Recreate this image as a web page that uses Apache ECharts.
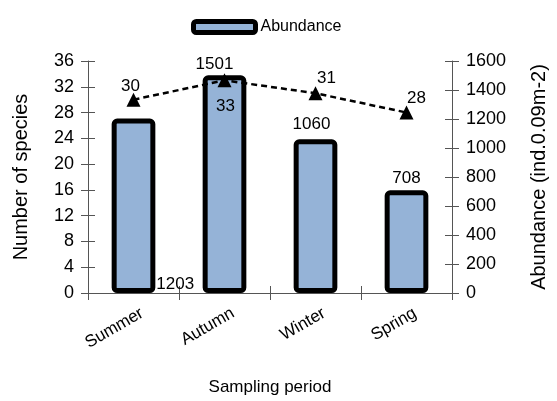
<!DOCTYPE html>
<html>
<head>
<meta charset="utf-8">
<script src="https://cdn.jsdelivr.net/npm/echarts@6/dist/echarts.min.js"></script>
<style>html,body{margin:0;padding:0;background:#fff}#c{width:557px;height:401px}</style>
</head>
<body>
<div id="c"></div>
<script>
const categories = ['Summer', 'Autumn', 'Winter', 'Spring'];
const abundance = [1203, 1501, 1060, 708];
const species = [30, 33, 31, 28];
const leftTicks = { min: 0, max: 36, interval: 4 };
const rightTicks = { min: 0, max: 1600, interval: 200 };

const FONT = "'Liberation Sans', Arial, sans-serif";
const AX = '#555';

const barLabelCfg = [
  { position: ['100%', '100%'], align: 'left', verticalAlign: 'bottom', offset: [1, 0], distance: 0 },
  { position: 'top', distance: 3, offset: [-10, 0] },
  { position: 'top', distance: 6, offset: [-4, 0] },
  { position: 'top', distance: 4, offset: [0, 0] }
];
const lineLabelCfg = [
  { position: 'top', offset: [-3, 7] },
  { position: 'bottom', offset: [1, 5] },
  { position: 'top', offset: [11, 6] },
  { position: 'top', offset: [10, 6] }
];

const chart = echarts.init(document.getElementById('c'), null, { renderer: 'canvas' });
const txt = { fontFamily: FONT, color: '#000' };

chart.setOption({
  animation: false,
  textStyle: { fontFamily: FONT },
  legend: {
    data: ['Abundance'],
    left: 186, top: 14,
    itemWidth: 62, itemHeight: 11,
    itemGap: 6,
    itemStyle: { borderWidth: 5, borderColor: '#000', borderRadius: 3 },
    textStyle: { ...txt, fontSize: 16 }
  },
  grid: { left: 88, right: 87, top: 61, bottom: 98, containLabel: false },
  xAxis: [
    {
      type: 'category', data: categories, boundaryGap: true,
      axisLine: { lineStyle: { color: AX, width: 1 } },
      axisTick: { show: true, length: 7, lineStyle: { color: AX } },
      axisLabel: { rotate: 30, margin: 24, ...txt, fontSize: 17, padding: [0, -10, 0, 0] },
      name: 'Sampling period', nameLocation: 'middle', nameGap: 86,
      nameTextStyle: { ...txt, fontSize: 17 }
    },
    {
      type: 'category', data: categories, boundaryGap: true, position: 'bottom',
      axisLine: { show: false },
      axisTick: { show: true, inside: true, length: 7, lineStyle: { color: AX } },
      axisLabel: { show: false }
    }
  ],
  yAxis: [
    {
      type: 'value', position: 'left', min: leftTicks.min, max: leftTicks.max, interval: leftTicks.interval,
      axisLine: { show: true, lineStyle: { color: AX } },
      axisTick: { show: true, length: 7, lineStyle: { color: AX } },
      splitLine: { show: false },
      axisLabel: { ...txt, fontSize: 18, margin: 14, formatter: v => String(v) },
      name: 'Number of species', nameLocation: 'middle', nameGap: 57, nameRotate: 90,
      nameTextStyle: { ...txt, fontSize: 20 }
    },
    {
      type: 'value', position: 'right', min: rightTicks.min, max: rightTicks.max, interval: rightTicks.interval,
      axisLine: { show: true, lineStyle: { color: AX } },
      axisTick: { show: true, length: 7, lineStyle: { color: AX } },
      splitLine: { show: false },
      axisLabel: { ...txt, fontSize: 18, margin: 14, formatter: v => String(v) },
      name: 'Abundance (ind.0.09m-2)', nameLocation: 'middle', nameGap: 77, nameRotate: 90,
      nameTextStyle: { ...txt, fontSize: 20 }
    },
    {
      type: 'value', position: 'left', min: leftTicks.min, max: leftTicks.max, interval: leftTicks.interval,
      axisLine: { show: false },
      axisTick: { show: true, inside: true, length: 7, lineStyle: { color: AX } },
      axisLabel: { show: false }, splitLine: { show: false }
    },
    {
      type: 'value', position: 'right', min: rightTicks.min, max: rightTicks.max, interval: rightTicks.interval,
      axisLine: { show: false },
      axisTick: { show: true, inside: true, length: 7, lineStyle: { color: AX } },
      axisLabel: { show: false }, splitLine: { show: false }
    }
  ],
  series: [
    {
      name: 'Abundance', type: 'bar', yAxisIndex: 1, barWidth: '48%',
      itemStyle: { color: '#95b3d7', borderColor: '#000', borderWidth: 5, borderRadius: 3 },
      data: abundance.map((v, i) => ({ value: v, label: { show: true, ...txt, fontSize: 17, ...barLabelCfg[i] } })),
      z: 2
    },
    {
      name: 'Species', type: 'line', yAxisIndex: 0,
      symbol: 'triangle', symbolSize: 14,
      lineStyle: { color: '#000', width: 2.5, type: [6, 4] },
      itemStyle: { color: '#000' },
      data: species.map((v, i) => ({ value: v, label: { show: true, ...txt, fontSize: 17, ...lineLabelCfg[i] } })),
      z: 5
    }
  ]
});
</script>
</body>
</html>
